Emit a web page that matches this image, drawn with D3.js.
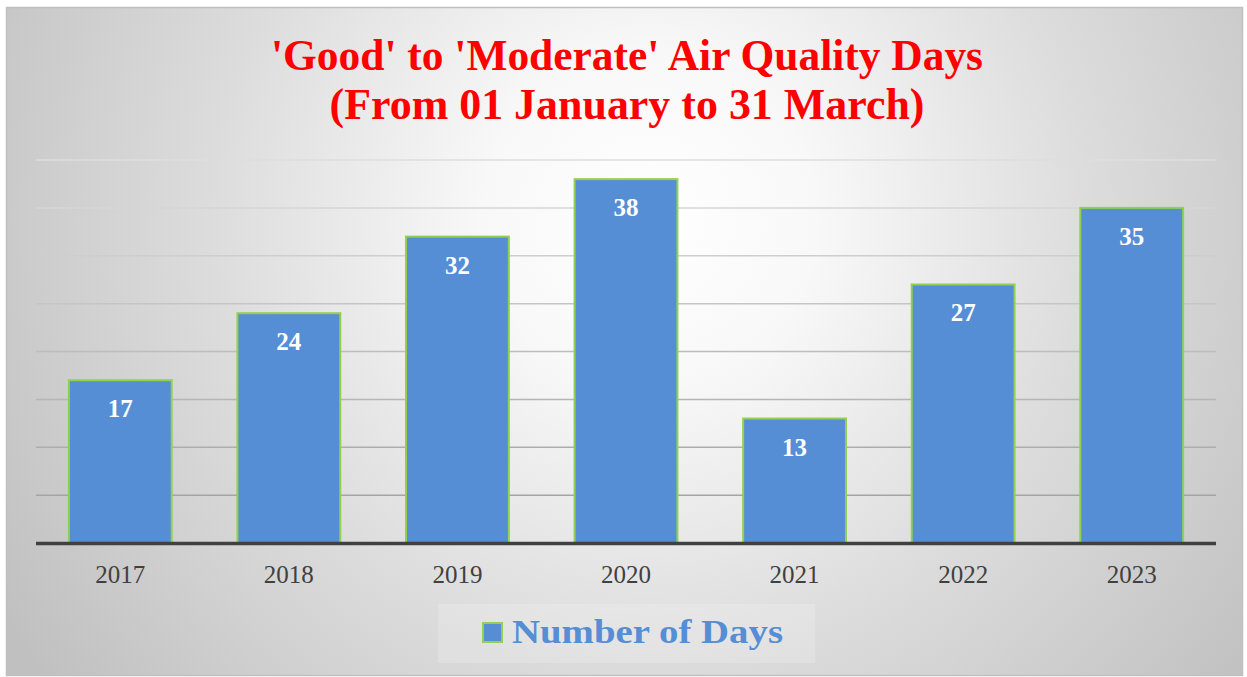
<!DOCTYPE html>
<html><head><meta charset="utf-8">
<script src="https://cdn.jsdelivr.net/npm/d3@7"></script>
<style>html,body{margin:0;padding:0;background:#fff;}svg{display:block;}</style>
</head><body>
<script>
const categories = ["2017","2018","2019","2020","2021","2022","2023"];
const values = [17,24,32,38,13,27,35];
const gridTicks = [5,10,15,20,25,30,35,40];
const titleLines = ["'Good' to 'Moderate' Air Quality Days","(From 01 January to 31 March)"];
const seriesName = "Number of Days";

const W = 1247, H = 677;
const svg = d3.select("body").append("svg").attr("width", W).attr("height", H);
const defs = svg.append("defs");
const rg = defs.append("radialGradient").attr("id","bg")
  .attr("gradientUnits","userSpaceOnUse").attr("cx",650).attr("cy",220).attr("r",760)
  .attr("fx",650).attr("fy",220);
rg.append("stop").attr("offset","0%").attr("stop-color","#ffffff");
rg.append("stop").attr("offset","22%").attr("stop-color","#f8f8f8");
rg.append("stop").attr("offset","58%").attr("stop-color","#dcdcdc");
rg.append("stop").attr("offset","100%").attr("stop-color","#c0c0c0");

svg.append("rect").attr("x",6.5).attr("y",7.5).attr("width",1236).attr("height",668)
  .attr("fill","url(#bg)").attr("stroke","#c0c0c0").attr("stroke-width",1.5);

const x = d3.scaleBand().domain(categories).range([36,1216]).paddingInner(0.39).paddingOuter(0.195);
const y = d3.scaleLinear().domain([0,40]).range([543,160]);
const gridColor = d3.scaleLinear().domain([40,0]).range(["#dedede","#9c9c9c"]);

// title
const t = svg.append("g");
const titleWidths = [712, 595];
const titleY = [70, 119];
titleLines.forEach((s,i)=>{
  t.append("text").attr("x",627).attr("y",titleY[i]).attr("text-anchor","middle")
   .attr("font-family","'Liberation Serif','DejaVu Serif',serif").attr("font-weight","bold")
   .attr("font-size",44).attr("fill","#ff0000")
   .attr("textLength",titleWidths[i]).attr("lengthAdjust","spacingAndGlyphs").text(s);
});

// gridlines
svg.append("g").selectAll("line").data(gridTicks).join("line")
  .attr("x1",36).attr("x2",1216).attr("y1",d=>y(d)).attr("y2",d=>y(d))
  .attr("stroke",d=>gridColor(d)).attr("stroke-width",1.5);

// bars
svg.append("g").selectAll("rect").data(values).join("rect")
  .attr("x",(d,i)=>x(categories[i])).attr("width",x.bandwidth())
  .attr("y",d=>y(d)).attr("height",d=>y(0)-y(d))
  .attr("fill","#558ed5").attr("stroke","#92d050").attr("stroke-width",2);

// value labels
svg.append("g").selectAll("text").data(values).join("text")
  .attr("x",(d,i)=>x(categories[i])+x.bandwidth()/2).attr("y",d=>y(d)+37)
  .attr("text-anchor","middle").attr("font-family","'Liberation Serif','DejaVu Serif',serif")
  .attr("font-weight","bold").attr("font-size",25).attr("fill","#ffffff").text(d=>d);

// axis line
svg.append("line").attr("x1",36).attr("x2",1216).attr("y1",y(0)+0.5).attr("y2",y(0)+0.5)
  .attr("stroke","#404040").attr("stroke-width",3.5);

// axis labels
const xAxis = d3.axisBottom(x).tickSize(0).tickPadding(0);
const ax = svg.append("g").attr("transform",`translate(0,${y(0)})`).call(xAxis);
ax.select(".domain").remove();
ax.selectAll("text").attr("y",40).attr("dy",0)
  .attr("font-family","'Liberation Serif','DejaVu Serif',serif").attr("font-size",25).attr("fill","#404040");

// legend
const leg = svg.append("g");
leg.append("rect").attr("x",438).attr("y",604).attr("width",377).attr("height",59)
  .attr("fill","#ffffff").attr("opacity",0.18);
leg.append("rect").attr("x",483).attr("y",623).attr("width",19).attr("height",19)
  .attr("fill","#558ed5").attr("stroke","#92d050").attr("stroke-width",2);
leg.append("text").attr("x",512).attr("y",643)
  .attr("font-family","'Liberation Serif','DejaVu Serif',serif").attr("font-weight","bold")
  .attr("font-size",34).attr("fill","#558ed5")
  .attr("textLength",271).attr("lengthAdjust","spacingAndGlyphs").text(seriesName);
</script>
</body></html>
